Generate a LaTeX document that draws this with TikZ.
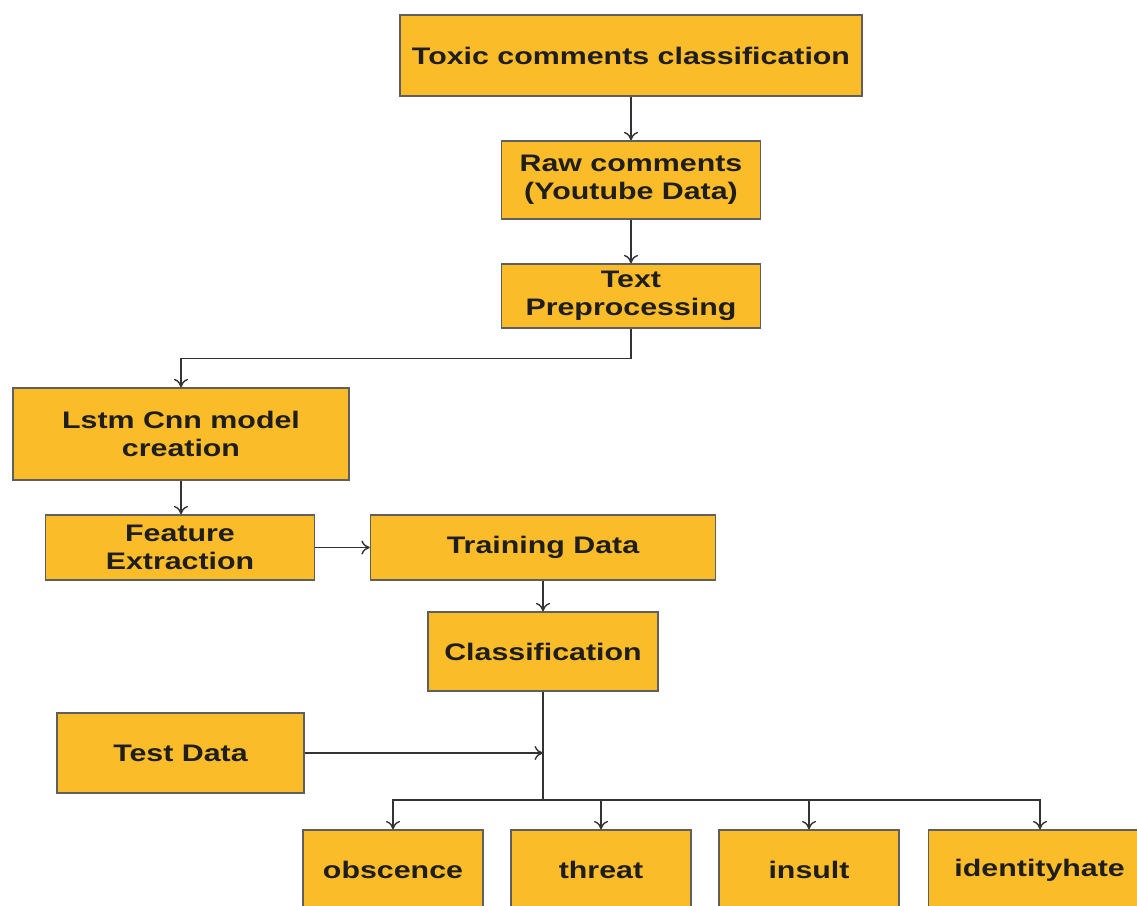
\documentclass[tikz,border=0pt]{standalone}
\usepackage{fontspec}
\setmainfont{Liberation Sans}[FakeStretch=1.27]
\usetikzlibrary{arrows.meta}
\definecolor{boxfill}{RGB}{251,188,42}
\definecolor{boxline}{RGB}{95,95,95}
\definecolor{txt}{RGB}{30,30,30}
\tikzset{
  box/.style={draw=boxline, fill=boxfill, line width=0.9pt, align=center, text=txt,
    font=\fontsize{17}{20}\selectfont\bfseries, inner sep=2pt},
  flow/.style={draw=black!80, line width=1pt, -{To[length=6pt,width=10pt]}},
  link/.style={draw=black!80, line width=1pt}
}
\begin{document}
\begin{tikzpicture}[x=0.025cm, y=-0.025cm]
\useasboundingbox (0,0) rectangle (1137,906);

\node[box, minimum width=11.55cm, minimum height=2.025cm] (toxic) at (631,55.5) {Toxic comments classification};
\node[box, minimum width=6.475cm, minimum height=1.95cm] (raw) at (631,180) {Raw comments\\(Youtube Data)};
\node[box, minimum width=6.475cm, minimum height=1.6cm] (prep) at (631,296) {Text\\Preprocessing};
\node[box, minimum width=8.4cm, minimum height=2.3cm] (lstm) at (181,434) {Lstm Cnn model\\creation};
\node[box, minimum width=6.725cm, minimum height=1.625cm] (feat) at (180,547.5) {Feature\\Extraction};
\node[box, minimum width=8.625cm, minimum height=1.625cm] (train) at (543,547.5) {Training Data};
\node[box, minimum width=5.75cm, minimum height=1.975cm] (cls) at (543,651.5) {Classification};
\node[box, minimum width=6.175cm, minimum height=2cm] (test) at (180.5,753) {Test Data};

\node[box, minimum width=4.5cm, minimum height=2cm] (obs) at (393,870) {obscence};
\node[box, minimum width=4.5cm, minimum height=2cm] (thr) at (601,870) {threat};
\node[box, minimum width=4.5cm, minimum height=2cm] (ins) at (809,870) {insult};
\node[box, minimum width=5.55cm, minimum height=2cm, anchor=west] (ide) at (928,870) {identityhate};

\draw[flow] (toxic) -- (raw);
\draw[flow] (raw) -- (prep);
\draw[flow] (prep.south) -- ++(0,30) -| (lstm.north);
\draw[flow] (lstm.south) -- (lstm.south |- feat.north);
\draw[flow] (feat) -- (train);
\draw[flow] (train) -- (cls);

\coordinate (bus) at (543,800);
\draw[link] (cls.south) -- (bus);
\draw[flow] (test.east) -- (test.east -| cls.south);
\foreach \n in {obs,thr,ins}
  \draw[flow] (bus) -| (\n.north);
\draw[flow] (bus) -| (ide.north -| 1040,0);
\end{tikzpicture}
\end{document}
